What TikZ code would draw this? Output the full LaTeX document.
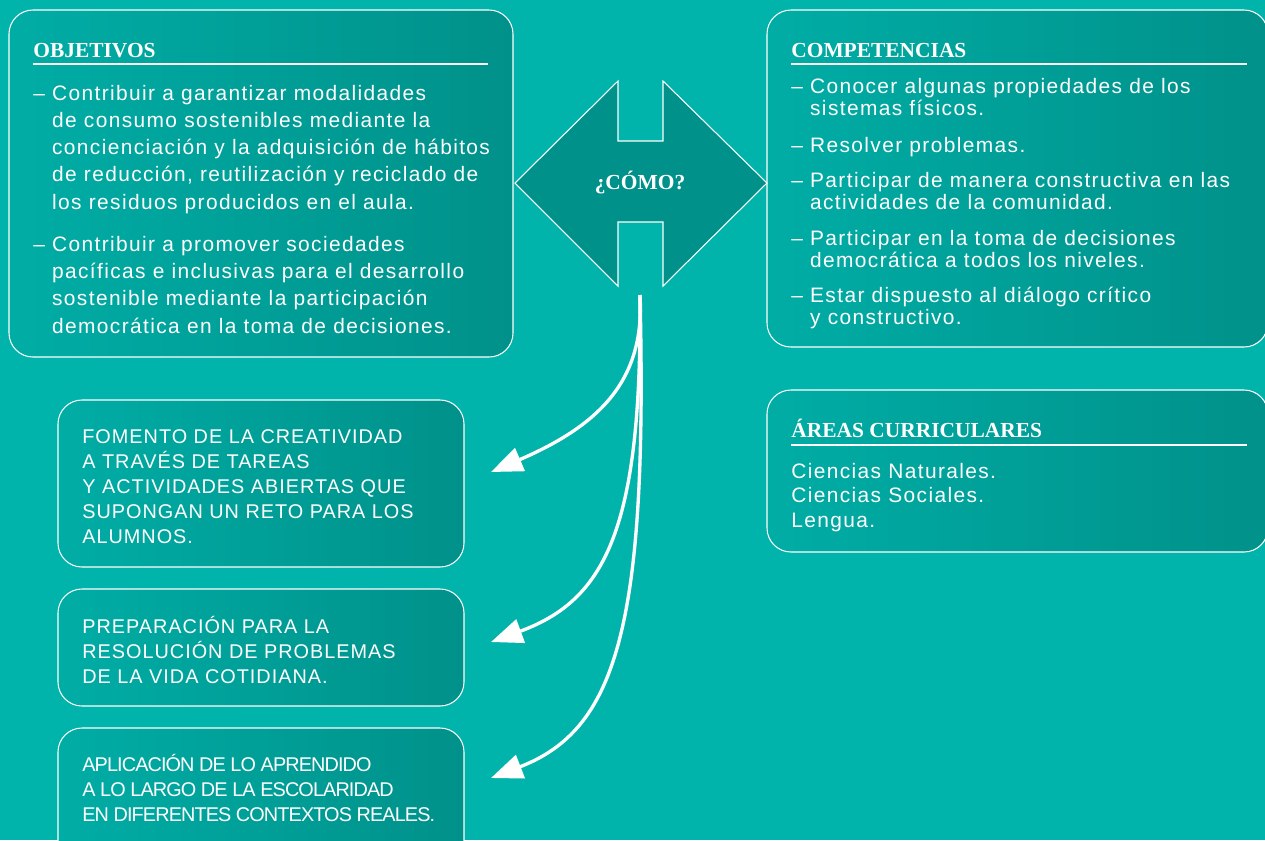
\documentclass[tikz,border=0pt]{standalone}
\usepackage{fontspec}
\setmainfont{Liberation Sans}
\newfontfamily\titulofont{Liberation Serif}
\newfontfamily\cuerpofont[LetterSpace=6.6]{Liberation Sans}
\newfontfamily\mayusfont[LetterSpace=5]{Liberation Sans}
\newfontfamily\estrechafont[LetterSpace=-4.5]{Liberation Sans}
\usetikzlibrary{calc, arrows.meta, positioning}

\definecolor{fondo}{RGB}{0,180,171}
\definecolor{cajaclara}{RGB}{0,173,165}
\definecolor{cajaoscura}{RGB}{0,145,138}

\newcommand{\ind}{\hphantom{–\ }}

\tikzset{
  caja/.style={draw=white, line width=0.6pt, rounded corners=0.48cm,
    left color=cajaclara, right color=cajaoscura},
  titulo/.style={font=\titulofont\bfseries\fontsize{12.2}{14}\selectfont,
    text=white, anchor=base west, inner sep=0pt},
  regla/.style={white, line width=0.75pt},
  objtxt/.style={font=\cuerpofont\fontsize{11.9}{15.5}\selectfont,
    text=white, anchor=base west, inner sep=0pt, align=left},
  comptxt/.style={objtxt, font=\cuerpofont\fontsize{11.9}{12.5}\selectfont},
  areatxt/.style={objtxt, font=\cuerpofont\fontsize{11.9}{13.9}\selectfont},
  mayustxt/.style={objtxt, font=\mayusfont\fontsize{11.3}{14.2}\selectfont},
  estrechatxt/.style={objtxt, font=\estrechafont\fontsize{11.3}{14.2}\selectfont},
  flecha/.style={white, line width=1.9pt, -{Triangle[length=18pt,width=14pt]}}
}

\begin{document}
\begin{tikzpicture}[x=0.02cm, y=-0.02cm]
  \useasboundingbox (0,0) rectangle (1265,840);
  \fill[fondo] (0,0) rectangle (1265,840);

  % cajas
  \draw[caja] (9,10) rectangle (513,357);
  \draw[caja] (767,10) rectangle (1268,347);
  \draw[caja] (767,390) rectangle (1268,552);
  \draw[caja] (58,400) rectangle (464,567);
  \draw[caja] (58,589) rectangle (464,706);
  \draw[caja] (58,728) rectangle (464,870);

  % objetivos (nodes sit on the baseline of their last line)
  \node[titulo] (obj) at (33,57) {OBJETIVOS};
  \draw[regla] (33,64) -- (488,64);
  \node[objtxt] (obj1) at (33,209) {– Contribuir a garantizar modalidades\\
    \ind de consumo sostenibles mediante la\\
    \ind concienciación y la adquisición de hábitos\\
    \ind de reducción, reutilización y reciclado de\\
    \ind los residuos producidos en el aula.};
  \node[objtxt] (obj2) at (33,333) {– Contribuir a promover sociedades\\
    \ind pacíficas e inclusivas para el desarrollo\\
    \ind sostenible mediante la participación\\
    \ind democrática en la toma de decisiones.};

  % como
  \draw[white, line width=0.6pt, fill=cajaoscura]
    (515,183) -- (618,81) -- (618,141) -- (663,141) -- (663,81) -- (767,183)
    -- (663,286) -- (663,222) -- (618,222) -- (618,286) -- cycle;
  \node[titulo, anchor=center, text depth=0pt] (como) at (640,180) {¿CÓMO?};

  % competencias
  \node[titulo] (comp) at (791,57) {COMPETENCIAS};
  \draw[regla] (791,64) -- (1247,64);
  \foreach \y/\t [count=\i] in {
      115/{– Conocer algunas propiedades de los\\\ind sistemas físicos.},
      152/{– Resolver problemas.},
      209/{– Participar de manera constructiva en las\\\ind actividades de la comunidad.},
      267/{– Participar en la toma de decisiones\\\ind democrática a todos los niveles.},
      324/{– Estar dispuesto al diálogo crítico\\\ind y constructivo.}}
    \node[comptxt] (comp\i) at (791,\y) {\t};

  % areas
  \node[titulo] (areas) at (791,437) {ÁREAS CURRICULARES};
  \draw[regla] (791,445) -- (1247,445);
  \node[areatxt] (areas1) at (791,527) {Ciencias Naturales.\\Ciencias Sociales.\\Lengua.};

  % cajas de abajo
  \node[mayustxt] (fomento) at (82,543) {FOMENTO DE LA CREATIVIDAD\\A TRAVÉS DE TAREAS\\
    Y ACTIVIDADES ABIERTAS QUE\\SUPONGAN UN RETO PARA LOS\\ALUMNOS.};
  \node[mayustxt] (prep) at (82,683) {PREPARACIÓN PARA LA\\RESOLUCIÓN DE PROBLEMAS\\
    DE LA VIDA COTIDIANA.};
  \node[estrechatxt] (aplic) at (82,821) {APLICACIÓN DE LO APRENDIDO\\
    A LO LARGO DE LA ESCOLARIDAD\\EN DIFERENTES CONTEXTOS REALES.};

  % flechas
  \coordinate (salida) at (640,295);
  \coordinate (fin1) at (491,472);
  \coordinate (fin2) at (491,642);
  \coordinate (fin3) at (491,778);
  \draw[flecha] (salida) .. controls (645,380) and (600,425) .. (fin1);
  \draw[flecha] (salida) .. controls (642,530) and (605,600) .. (fin2);
  \draw[flecha] (salida) .. controls (648,630) and (615,730) .. (fin3);
\end{tikzpicture}
\end{document}
